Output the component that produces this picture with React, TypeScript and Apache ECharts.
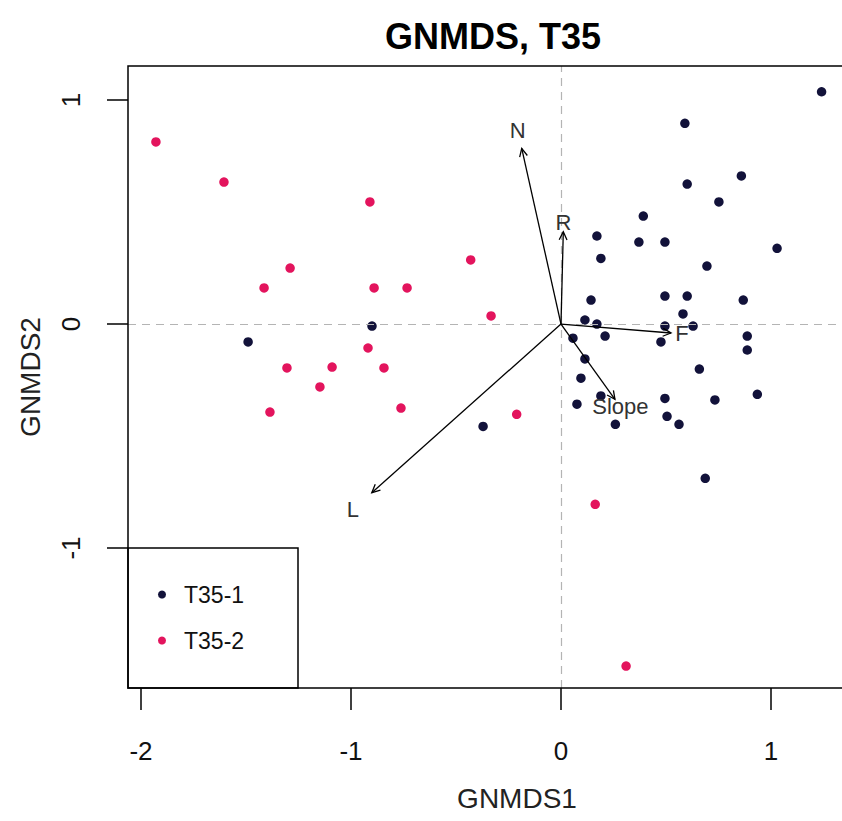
import React, { useEffect, useRef } from "react";
import * as echarts from "echarts";

// T35-1 points (GNMDS1, GNMDS2)
const group1X = [1.241, 0.59, 0.601, 0.859, 0.752, 0.392, 0.171, 0.371, 0.495, 1.029, 0.19, 0.695, 0.143, 0.495, 0.601, 0.868, 0.581, 0.114, 0.171, 0.495, 0.629, 0.887, 0.057, 0.21, 0.476, 0.887, 0.114, 0.659, 0.095, 0.935, 0.733, 0.495, 0.19, 0.076, 0.505, 0.562, 0.259, -0.371, 0.687, -1.49, -0.9];
const group1Y = [1.037, 0.896, 0.625, 0.661, 0.545, 0.482, 0.393, 0.366, 0.366, 0.338, 0.293, 0.259, 0.107, 0.125, 0.125, 0.107, 0.045, 0.018, 0.0, -0.009, -0.009, -0.054, -0.063, -0.054, -0.08, -0.116, -0.156, -0.201, -0.242, -0.314, -0.339, -0.332, -0.321, -0.358, -0.412, -0.448, -0.448, -0.457, -0.689, -0.08, -0.009];

// T35-2 points
const group2X = [-1.929, -1.605, -0.91, -1.29, -1.414, -0.89, -0.733, -0.43, -0.333, -0.919, -0.843, -1.305, -1.09, -1.148, -1.386, -0.762, -0.211, 0.163, 0.31];
const group2Y = [0.813, 0.634, 0.545, 0.25, 0.161, 0.161, 0.161, 0.286, 0.036, -0.107, -0.196, -0.196, -0.192, -0.281, -0.393, -0.375, -0.403, -0.805, -1.527];

// Environmental vectors (envfit arrows)
const envNames = ["N", "R", "F", "Slope", "L"];
const envX = [-0.187, 0.011, 0.524, 0.257, -0.901];
const envY = [0.784, 0.412, -0.04, -0.336, -0.753];

const tickValues = [-2, -1, 0, 1];
const seriesNames = ["T35-1", "T35-2"];

const FONT = "'Liberation Sans', Arial, sans-serif";

export default function App() {
  const ref = useRef<HTMLDivElement>(null);

  useEffect(() => {
    document.body.style.margin = "0";
    document.body.style.overflow = "hidden";
    if (!ref.current) return;
    const chart = echarts.init(ref.current, undefined, { renderer: "svg" });

    const colors = ["#12123a", "#e3145d"];
    const g1 = group1X.map((x, i) => [x, group1Y[i]]);
    const g2 = group2X.map((x, i) => [x, group2Y[i]]);
    const env = envX.map((x, i) => [x, envY[i], i]);

    const option: any = {
      animation: false,
      backgroundColor: "#ffffff",
      textStyle: { fontFamily: FONT },
      title: {
        text: "GNMDS, T35",
        left: 488,
        top: 31,
        textAlign: "center",
        textVerticalAlign: "middle",
        textStyle: { fontSize: 36, fontWeight: "bold", color: "#000", fontFamily: FONT },
      },
      grid: {
        left: 128,
        top: 66,
        width: 778,
        height: 622,
        outerBoundsMode: "none",
        containLabel: false,
        show: false,
      },
      xAxis: {
        type: "value",
        min: -2.062,
        max: 1.643,
        name: "GNMDS1",
        nameLocation: "middle",
        nameGap: 96,
        nameTextStyle: { fontSize: 28, color: "#222", fontFamily: FONT },
        axisLine: { show: false, onZero: false },
        axisTick: { show: true, length: 22, inside: false, customValues: tickValues, lineStyle: { color: "#000", width: 1.5 } },
        axisLabel: { show: true, customValues: tickValues, margin: 50, fontSize: 26, color: "#111", fontFamily: FONT },
        splitLine: { show: false },
      },
      yAxis: {
        type: "value",
        min: -1.625,
        max: 1.152,
        name: "GNMDS2",
        nameLocation: "middle",
        nameRotate: 90,
        nameGap: 84,
        nameTextStyle: { fontSize: 28, color: "#222", fontFamily: FONT },
        axisLine: { show: false, onZero: false },
        axisTick: { show: true, length: 21, inside: false, customValues: tickValues, lineStyle: { color: "#000", width: 1.5 } },
        axisLabel: { show: true, customValues: tickValues, rotate: 90, margin: 44, fontSize: 26, color: "#111", fontFamily: FONT },
        splitLine: { show: false },
      },
      legend: {
        data: seriesNames,
        orient: "vertical",
        left: 158,
        top: 583,
        padding: 0,
        itemGap: 23,
        itemWidth: 8,
        itemHeight: 8,
        icon: "circle",
        textStyle: { fontSize: 23, lineHeight: 20, color: "#111", padding: [0, 0, 0, 13], fontFamily: FONT },
      },
      graphic: [
        {
          type: "polyline",
          shape: { points: [[960, 66], [128, 66], [128, 688], [960, 688]] },
          style: { fill: "none", stroke: "#000", lineWidth: 1.5 },
          z: 10,
          silent: true,
        },
        {
          type: "rect",
          shape: { x: 128, y: 548, width: 170, height: 140 },
          style: { fill: "none", stroke: "#000", lineWidth: 1.5 },
          z: 10,
          silent: true,
        },
      ],
      series: [
        {
          name: seriesNames[0],
          type: "scatter",
          data: g1,
          symbol: "circle",
          symbolSize: 9.5,
          itemStyle: { color: colors[0], opacity: 1 },
          z: 3,
          markLine: {
            silent: true,
            symbol: ["none", "none"],
            label: { show: false },
            lineStyle: { color: "#b4b4b4", type: [8, 6], width: 1.2 },
            data: [{ xAxis: 0 }, { yAxis: 0 }],
          },
        },
        {
          name: seriesNames[1],
          type: "scatter",
          data: g2,
          symbol: "circle",
          symbolSize: 9.5,
          itemStyle: { color: colors[1], opacity: 1 },
          z: 3,
        },
        {
          name: "envfit",
          type: "custom",
          coordinateSystem: "cartesian2d",
          data: env,
          z: 5,
          silent: true,
          renderItem: (params: any, api: any) => {
            const x = api.value(0);
            const y = api.value(1);
            const idx = api.value(2);
            const p0 = api.coord([0, 0]);
            const p1 = api.coord([x, y]);
            const ang = Math.atan2(p1[1] - p0[1], p1[0] - p0[0]);
            const hl = 9;
            const sp = 0.45;
            const h1 = [p1[0] - hl * Math.cos(ang - sp), p1[1] - hl * Math.sin(ang - sp)];
            const h2 = [p1[0] - hl * Math.cos(ang + sp), p1[1] - hl * Math.sin(ang + sp)];
            const lp = api.coord([x * 1.1, y * 1.1]);
            return {
              type: "group",
              children: [
                {
                  type: "line",
                  shape: { x1: p0[0], y1: p0[1], x2: p1[0], y2: p1[1] },
                  style: { stroke: "#000", lineWidth: 1.3 },
                },
                {
                  type: "polyline",
                  shape: { points: [h1, p1, h2] },
                  style: { stroke: "#000", lineWidth: 1.3, fill: "none" },
                },
                {
                  type: "text",
                  x: lp[0],
                  y: lp[1],
                  style: {
                    text: envNames[idx],
                    textAlign: "center",
                    textVerticalAlign: "middle",
                    fontSize: 22,
                    fontFamily: FONT,
                    fill: "#333",
                  },
                },
              ],
            };
          },
        },
      ],
    };

    chart.setOption(option);
    return () => chart.dispose();
  }, []);

  return <div ref={ref} style={{ width: 842, height: 821, position: "absolute", left: 0, top: 0, overflow: "hidden" }} />;
}
